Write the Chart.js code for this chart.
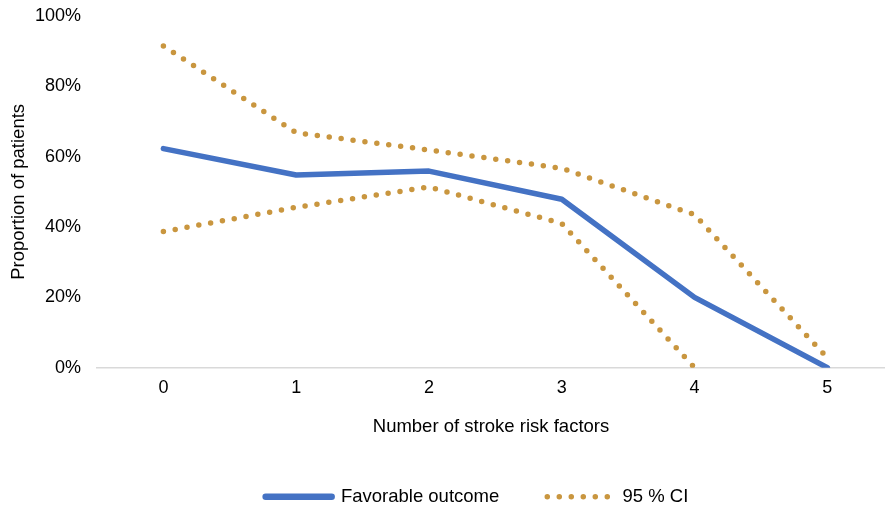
<!DOCTYPE html>
<html>
<head>
<meta charset="utf-8">
<script src="https://cdn.jsdelivr.net/npm/chart.js@4/dist/chart.umd.min.js"></script>
<style>
  html, body { margin: 0; padding: 0; background: #fff; }
  #wrap { width: 885px; height: 507px; position: relative; }
</style>
</head>
<body>
<div id="wrap"><canvas id="chart"></canvas></div>
<script>
// chart data
const categories = [0, 1, 2, 3, 4, 5];
const favorable = [62.3, 54.8, 55.9, 47.9, 20.0, 0];
const ciUpper = [91.5, 66.8, 61.9, 56.7, 43.5, 2.8];
const ciLower = [38.7, 45.6, 51.4, 41.0, 0, null];
const yTicks = [0, 20, 40, 60, 80, 100];

const TICK_FONT = { family: "'Liberation Sans', Arial, sans-serif", size: 18 };
const FONT = { family: "'Liberation Sans', Arial, sans-serif", size: 18.5 };
const BLUE = '#4472C4';
const GOLD = '#C9963F';
const DOTS = [0, 12];

function points(values) {
    return values.map((v, i) => ({ x: categories[i], y: v }));
}

const dotted = {
    borderColor: GOLD,
    backgroundColor: GOLD,
    borderWidth: 5.5,
    borderDash: DOTS,
    borderCapStyle: 'round',
    pointRadius: 0,
    pointStyle: 'line',
    tension: 0
};

// nudge the legend a bit, like the original
const legendShift = {
    id: 'legendShift',
    afterLayout(chart) {
        const lg = chart.legend;
        if (lg) {
            lg.left -= 14;
            lg.right -= 14;
            lg.top -= 3;
            lg.bottom -= 3;
        }
    }
};

new Chart(document.getElementById('chart'), {
    type: 'line',
    data: {
        datasets: [
            {
                label: 'Favorable outcome',
                data: points(favorable),
                borderColor: BLUE,
                backgroundColor: BLUE,
                borderWidth: 5.5,
                borderCapStyle: 'round',
                borderJoinStyle: 'round',
                pointRadius: 0,
                pointStyle: 'line',
                tension: 0
            },
            Object.assign({ label: '95 % CI', data: points(ciUpper) }, dotted),
            Object.assign({ label: '95 % CI lower', data: points(ciLower) }, dotted)
        ]
    },
    plugins: [legendShift],
    options: {
        responsive: true,
        maintainAspectRatio: false,
        animation: false,
        layout: { padding: { left: 4, right: 0, top: 16, bottom: -12 } },
        scales: {
            x: {
                type: 'linear',
                min: -0.5,
                max: 5.434,
                afterBuildTicks: scale => {
                    scale.ticks = categories.map(v => ({ value: v }));
                },
                afterFit: scale => { scale.height = 74.8; },
                grid: { display: false, drawTicks: false },
                border: { display: true, color: '#d9d9d9', width: 1.5 },
                ticks: {
                    padding: 10,
                    color: '#000',
                    font: TICK_FONT,
                    callback: v => String(v)
                },
                title: {
                    display: true,
                    text: 'Number of stroke risk factors',
                    color: '#000',
                    font: FONT
                }
            },
            y: {
                min: 0,
                max: 100,
                afterBuildTicks: scale => {
                    scale.ticks = yTicks.map(v => ({ value: v }));
                },
                afterFit: scale => { scale.width = 93; },
                // invisible tick marks give the gap between labels and plot
                grid: {
                    display: true,
                    drawOnChartArea: false,
                    drawTicks: true,
                    tickLength: 16,
                    tickColor: 'rgba(0,0,0,0)'
                },
                border: { display: false },
                ticks: {
                    padding: 0,
                    color: '#000',
                    font: TICK_FONT,
                    callback: v => v + '%'
                },
                title: {
                    display: true,
                    text: 'Proportion of patients',
                    color: '#000',
                    font: FONT
                }
            }
        },
        plugins: {
            tooltip: { enabled: false },
            legend: {
                position: 'bottom',
                fullSize: false,
                labels: {
                    usePointStyle: true,
                    pointStyleWidth: 66,
                    boxWidth: 66,
                    padding: 48,
                    color: '#000',
                    font: FONT,
                    filter: item => item.datasetIndex < 2,
                    generateLabels: chart => {
                        const items = Chart.defaults.plugins.legend.labels.generateLabels(chart);
                        items.forEach(item => {
                            const ds = chart.data.datasets[item.datasetIndex];
                            item.lineWidth = ds.borderDash ? ds.borderWidth : 6.5;
                            item.lineCap = 'round';
                            item.lineDash = ds.borderDash || [];
                            item.strokeStyle = ds.borderColor;
                        });
                        return items;
                    }
                }
            }
        }
    }
});
</script>
</body>
</html>
